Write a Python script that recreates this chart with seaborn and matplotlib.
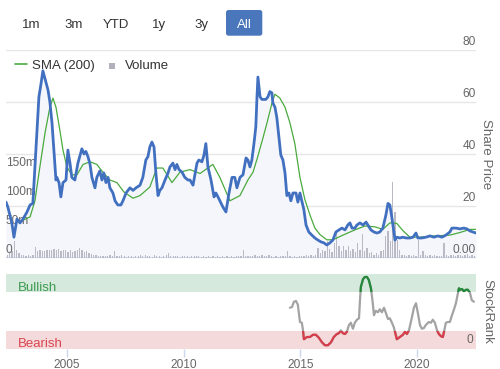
import numpy as np
import pandas as pd
import matplotlib
matplotlib.use('Agg')
import matplotlib.pyplot as plt
import matplotlib.transforms as mtransforms
from matplotlib.patches import FancyBboxPatch, Rectangle
from matplotlib.lines import Line2D
import seaborn as sns

sns.set_style('white')
plt.rcParams['font.family'] = ['Liberation Sans', 'DejaVu Sans']

# ===============================
# DATA
# ===============================
price_year = [
    2002.39, 2002.47, 2002.64, 2002.73, 2002.86, 2002.99,
    2003.12, 2003.29, 2003.42, 2003.54, 2003.63, 2003.72, 2003.80, 2003.89, 2003.97,
    2004.06, 2004.19, 2004.27, 2004.36, 2004.44, 2004.53, 2004.57, 2004.66, 2004.74, 2004.83, 2004.96,
    2005.04, 2005.13, 2005.21, 2005.34, 2005.47, 2005.64, 2005.73, 2005.81, 2005.90, 2005.99,
    2006.07, 2006.20, 2006.28, 2006.41, 2006.50, 2006.58, 2006.67, 2006.76, 2006.84, 2006.97,
    2007.06, 2007.18, 2007.31, 2007.40, 2007.53, 2007.70, 2007.83, 2007.96,
    2008.13, 2008.25, 2008.38, 2008.47, 2008.55, 2008.64, 2008.73, 2008.81, 2008.90, 2008.98,
    2009.07, 2009.20, 2009.33, 2009.41, 2009.54, 2009.63, 2009.71, 2009.80, 2009.93,
    2010.05, 2010.18, 2010.27, 2010.40, 2010.48, 2010.57, 2010.65, 2010.78, 2010.87, 2010.95,
    2011.04, 2011.17, 2011.30, 2011.38, 2011.47, 2011.55, 2011.68, 2011.81, 2011.94,
    2012.07, 2012.19, 2012.28, 2012.41, 2012.54, 2012.67, 2012.75, 2012.84, 2012.92,
    2013.01, 2013.09, 2013.14, 2013.18, 2013.27, 2013.35, 2013.52, 2013.61, 2013.69, 2013.78, 2013.82, 2013.91, 2013.99,
    2014.08, 2014.16, 2014.25, 2014.34, 2014.42, 2014.51, 2014.59, 2014.68, 2014.81, 2014.89, 2014.98,
    2015.06, 2015.15, 2015.24, 2015.36, 2015.49, 2015.62, 2015.75, 2015.88,
    2016.01, 2016.13, 2016.26, 2016.39, 2016.52, 2016.65, 2016.78, 2016.91,
    2017.03, 2017.12, 2017.21, 2017.33, 2017.42, 2017.55, 2017.68, 2017.81, 2017.89,
    2018.02, 2018.15, 2018.28, 2018.40, 2018.53, 2018.66, 2018.75, 2018.83, 2018.92,
    2019.00, 2019.05, 2019.13, 2019.26, 2019.39, 2019.52, 2019.69, 2019.82, 2019.95,
    2020.03, 2020.20, 2020.37, 2020.55, 2020.72, 2020.89,
    2021.06, 2021.23, 2021.40, 2021.49, 2021.66, 2021.83,
    2022.00, 2022.13, 2022.26, 2022.39, 2022.52,
]
price = [
    21.5, 19.6, 13.5, 8.0, 15.0, 13.5,
    15.0, 17.7, 20.4, 21.0, 35.0, 49.0, 62.0, 67.0, 72.0,
    69.0, 64.6, 60.0, 52.0, 41.5, 30.0, 31.0, 29.0, 23.5, 29.0, 30.0,
    41.5, 36.5, 31.0, 30.0, 36.5, 42.0, 40.0, 41.0, 39.0, 36.0,
    31.0, 27.0, 31.0, 33.5, 30.0, 32.7, 29.0, 31.0, 27.0, 25.0,
    22.0, 20.4, 20.4, 22.0, 25.0, 27.0, 26.0, 27.0,
    28.0, 31.0, 37.7, 39.0, 42.7, 44.6, 42.7, 32.7, 24.0, 26.0,
    27.0, 30.0, 32.7, 35.0, 36.5, 34.0, 36.0, 34.0, 33.0,
    31.0, 30.0, 30.0, 28.0, 32.0, 36.5, 37.7, 37.0, 39.6, 44.0,
    35.0, 30.0, 23.5, 25.0, 23.5, 22.0, 19.6, 17.7, 25.0,
    31.0, 31.0, 27.0, 31.0, 32.0, 38.5, 37.7, 35.0, 37.7,
    44.0, 50.5, 62.0, 69.6, 62.0, 61.0, 61.0, 62.0, 64.0, 63.5, 59.6, 58.0, 54.0,
    46.5, 39.6, 37.7, 32.7, 24.0, 25.0, 22.0, 25.0, 25.0, 21.5, 25.0,
    22.0, 18.5, 12.7, 10.0, 8.8, 7.7, 6.9, 6.2,
    5.8, 5.0, 5.8, 6.9, 10.0, 10.8, 11.5, 10.8,
    12.7, 13.5, 11.5, 11.5, 12.7, 13.5, 12.7, 13.8, 12.7,
    10.8, 10.0, 9.6, 10.0, 11.5, 16.5, 21.0, 20.4, 15.4,
    10.0, 6.9, 8.0, 7.7, 8.0, 7.7, 7.7, 8.0, 9.6,
    7.7, 7.7, 8.0, 8.5, 8.0, 8.5,
    8.0, 8.8, 10.0, 11.5, 11.5, 11.2,
    11.5, 11.2, 10.4, 10.0, 9.6,
]

sma_year = [
    2002.99, 2003.42, 2003.63, 2003.84, 2004.06, 2004.27, 2004.40, 2004.53, 2004.70, 2004.83,
    2005.00, 2005.21, 2005.43, 2005.69, 2005.99, 2006.28, 2006.54, 2006.84, 2007.14, 2007.44,
    2007.83, 2008.13, 2008.55, 2008.85, 2009.11, 2009.50, 2009.84, 2010.27, 2010.70, 2011.25,
    2011.55, 2011.98, 2012.41, 2012.75, 2012.97, 2013.14, 2013.39, 2013.57, 2013.78, 2013.91,
    2014.12, 2014.34, 2014.55, 2014.76, 2014.98, 2015.19, 2015.41, 2015.62, 2015.84, 2016.13,
    2016.39, 2016.82, 2017.33, 2017.76, 2018.19, 2018.53, 2018.83, 2019.13, 2019.39, 2019.69,
    2020.12, 2020.76, 2021.40, 2021.83, 2022.26, 2022.52,
]
sma = [
    14.0, 15.8, 22.0, 35.0, 48.0, 58.0, 61.5, 58.0, 49.0, 41.5,
    35.0, 32.0, 32.0, 36.0, 37.0, 36.0, 33.0, 30.0, 29.0, 25.4,
    23.0, 24.0, 27.3, 34.6, 34.6, 29.0, 33.0, 34.0, 32.5, 36.0,
    31.0, 22.0, 24.0, 30.0, 33.0, 38.0, 46.0, 52.0, 59.6, 63.0,
    61.5, 58.0, 52.0, 44.0, 31.0, 22.5, 16.5, 11.5, 9.0, 7.0,
    7.0, 8.8, 10.8, 12.3, 12.0, 11.0, 13.5, 13.3, 10.5, 8.0,
    8.0, 8.5, 8.8, 9.8, 11.0, 11.0,
]

# volume in millions, one bar every 0.1 year starting mid-2002
volume_first_year = 2002.45
volume_m = [
    6, 8, 12, 29, 14, 9,                      # 2002
    5, 5, 4, 5, 4, 6, 19, 12, 13, 12,         # 2003
    12, 14, 13, 14, 15, 13, 15, 12, 14, 13,   # 2004
    11, 13, 10, 12, 14, 17, 13, 11, 12, 9,    # 2005
    7, 6, 5, 4, 4, 3, 4, 3, 5, 4,             # 2006
    12, 4, 3, 5, 3, 2, 4, 3, 2, 3,            # 2007
    3, 6, 4, 5, 3, 4, 2, 5, 3, 4,             # 2008
    2, 3, 5, 9, 4, 3, 4, 3, 2, 4,             # 2009
    3, 4, 2, 3, 4, 3, 4, 2, 3, 2,             # 2010
    3, 2, 3, 2, 3, 2, 4, 2, 3, 2,             # 2011
    3, 2, 3, 4, 3, 14, 4, 3, 4, 3,            # 2012
    5, 4, 3, 6, 4, 3, 5, 3, 2, 3,             # 2013
    2, 3, 4, 3, 12, 3, 2, 3, 2, 3,            # 2014
    3, 4, 5, 4, 5, 4, 6, 17, 8, 14,           # 2015
    12, 29, 15, 10, 26, 43, 20, 12, 21, 14,   # 2016
    20, 12, 16, 10, 26, 14, 41, 12, 17, 8,    # 2017
    10, 6, 8, 5, 12, 14, 38, 46, 30, 131,     # 2018
    80, 31, 14, 6, 5, 4, 6, 4, 5, 3,          # 2019
    31, 6, 12, 5, 4, 6, 4, 5, 3, 4,           # 2020
    4, 26, 5, 4, 6, 5, 4, 6, 5, 4,            # 2021
    5, 7, 4, 6, 4,                            # 2022
]
volume_year = np.round(volume_first_year + 0.1 * np.arange(len(volume_m)), 2)

rank_year = [
    2014.55, 2014.64, 2014.72, 2014.81, 2014.89, 2014.98,
    2015.06, 2015.11, 2015.15, 2015.28, 2015.41, 2015.54, 2015.66, 2015.79, 2015.92,
    2016.05, 2016.18, 2016.31, 2016.43, 2016.56, 2016.65, 2016.73, 2016.82, 2016.91, 2016.99,
    2017.08, 2017.16, 2017.25, 2017.33, 2017.42, 2017.51, 2017.55, 2017.59, 2017.68, 2017.76, 2017.85, 2017.93,
    2018.02, 2018.10, 2018.15, 2018.23, 2018.32, 2018.40, 2018.49, 2018.58, 2018.66, 2018.75, 2018.83, 2018.92,
    2019.00, 2019.05, 2019.13, 2019.26, 2019.39, 2019.48, 2019.56, 2019.65, 2019.78, 2019.86, 2019.95,
    2020.03, 2020.12, 2020.20, 2020.29, 2020.37, 2020.50, 2020.59, 2020.67, 2020.76, 2020.85, 2020.93,
    2021.02, 2021.10, 2021.15, 2021.23, 2021.32, 2021.40, 2021.49, 2021.57, 2021.66, 2021.75, 2021.79, 2021.83, 2021.92,
    2022.00, 2022.09, 2022.17, 2022.26, 2022.34, 2022.43,
]
rank = [
    55, 56, 63, 64, 59, 36,
    35, 25, 13, 16, 16, 19, 19, 15, 9,
    5, 5, 9, 16, 20, 21, 25, 21, 20, 23,
    32, 35, 27, 35, 39, 41, 65, 83, 93, 96, 96, 92,
    81, 61, 45, 51, 49, 53, 49, 55, 48, 40, 41, 35,
    29, 23, 13, 16, 19, 23, 20, 25, 43, 55, 61,
    48, 32, 27, 28, 32, 36, 35, 39, 35, 25, 20,
    17, 16, 23, 35, 36, 36, 45, 52, 61, 75, 81, 79, 80,
    77, 79, 79, 75, 65, 63,
]

price_ticks = [0, 20, 40, 60, 80]
price_labels = ['0.00', '20', '40', '60', '80']
volume_ticks = [0, 50, 100, 150]
volume_labels = ['0', '50m', '100m', '150m']
year_ticks = [2005, 2010, 2015, 2020]
buttons = ['1m', '3m', 'YTD', '1y', '3y', 'All']
bearish_max, bullish_min = 24, 76

# ===============================
# STYLE
# ===============================
BLUE = '#4270c0'
FILL = '#f4f6fb'
GREEN = '#4aaa3e'
VOL = '#b9bac3'
GRID = '#e6e6e6'
AXLINE = '#ccd6eb'
LABEL = '#666666'
TEXT = '#333333'

W, H = 500, 369
x_min, x_max = 2002.39, 2022.52

fig = plt.figure(figsize=(W / 100, H / 100), dpi=100)


def px_rect(x0, y0, x1, y1):
    return [x0 / W, 1 - y1 / H, (x1 - x0) / W, (y1 - y0) / H]


def clean(a):
    for s in a.spines.values():
        s.set_visible(False)
    a.tick_params(left=False, right=False, bottom=False, top=False,
                  labelleft=False, labelright=False, labelbottom=False)
    a.set_xlim(x_min, x_max)
    a.set_xlabel('')
    a.set_ylabel('')


# ===============================
# PRICE PANEL
# ===============================
ax = fig.add_axes(px_rect(6, 50, 476, 258))
axv = ax.twinx()
axp = ax.twinx()

ax.set_ylim(0, 80)
ax.set_yticks(price_ticks)
ax.grid(axis='y', color=GRID, linewidth=1)
ax.set_xticks([])
ax.fill_between(price_year, price, color=FILL, linewidth=0)
ax.axhline(0, color=AXLINE, linewidth=1.2)
clean(ax)

axv.bar(volume_year, volume_m, width=0.055, color=VOL, linewidth=0)
axv.set_ylim(0, 359)
clean(axv)

sns.lineplot(x=sma_year, y=sma, ax=axp, color=GREEN, linewidth=0.9,
             sort=False, estimator=None)
sns.lineplot(x=price_year, y=price, ax=axp, color=BLUE, linewidth=2.0,
             sort=False, estimator=None)
axp.set_ylim(0, 80)
clean(axp)

tr_p = mtransforms.blended_transform_factory(axp.transAxes, axp.transData)
for v, lab in zip(price_ticks, price_labels):
    axp.annotate(lab, xy=(1.0, v), xycoords=tr_p, xytext=(0, 1.5),
                 textcoords='offset points', ha='right', va='bottom',
                 color=LABEL, fontsize=8.6)

tr_v = mtransforms.blended_transform_factory(axv.transAxes, axv.transData)
for v, lab in zip(volume_ticks, volume_labels):
    axv.annotate(lab, xy=(0.0, v), xycoords=tr_v, xytext=(0, 1.5),
                 textcoords='offset points', ha='left', va='bottom',
                 color=LABEL, fontsize=8.6)

fig.text(486 / W, 1 - 154 / H, 'Share Price', rotation=270,
         ha='center', va='center', color=LABEL, fontsize=9.6)

# legend
fig.add_artist(Line2D([15 / W, 27 / W], [1 - 63.5 / H] * 2,
                      color=GREEN, linewidth=1.2))
fig.text(32.5 / W, 1 - 69.3 / H, 'SMA (200)', ha='left', va='baseline',
         color=TEXT, fontsize=9.5)
fig.add_artist(Rectangle((109.3 / W, 1 - 69.3 / H), 6 / W, 6.3 / H,
                         transform=fig.transFigure, color='#b0b1ba',
                         linewidth=0))
fig.text(124.7 / W, 1 - 69.3 / H, 'Volume', ha='left', va='baseline',
         color=TEXT, fontsize=9.5)

# range buttons
btn_x = [31, 73.5, 116, 159, 201, 244]
fig.add_artist(FancyBboxPatch((226 / 100, (H - 35.7) / 100), 0.363, 0.257,
                              boxstyle='round,pad=0,rounding_size=0.025',
                              transform=fig.dpi_scale_trans,
                              facecolor='#4a77bc', edgecolor='none'))
for bx, lab in zip(btn_x, buttons):
    fig.text(bx / W, 1 - 28.3 / H, lab, ha='center', va='baseline',
             color='white' if lab == 'All' else TEXT, fontsize=9.5)

# ===============================
# STOCKRANK PANEL
# ===============================
ax_sr = fig.add_axes(px_rect(6, 274, 476, 349))
ax_sr.set_ylim(0, 100)
bear_band = ax_sr.axhspan(0, bearish_max, color='#f5dadb', linewidth=0, zorder=0)
bull_band = ax_sr.axhspan(bullish_min, 100, color='#d5e9dc', linewidth=0, zorder=0)

sns.lineplot(x=rank_year, y=rank, ax=ax_sr, color='#a3a3a3', linewidth=1.6,
             sort=False, estimator=None)
sns.lineplot(x=rank_year, y=rank, ax=ax_sr, color='#d73c4a', linewidth=1.6,
             sort=False, estimator=None)
ax_sr.lines[-1].set_clip_path(bear_band)
sns.lineplot(x=rank_year, y=rank, ax=ax_sr, color='#23893a', linewidth=1.6,
             sort=False, estimator=None)
ax_sr.lines[-1].set_clip_path(bull_band)

for s in ax_sr.spines.values():
    s.set_visible(False)
ax_sr.set_xlim(x_min, x_max)
ax_sr.set_xlabel('')
ax_sr.set_ylabel('')
ax_sr.set_yticks([])
ax_sr.set_xticks(year_ticks)
ax_sr.set_xticklabels([str(y) for y in year_ticks])
ax_sr.tick_params(axis='x', bottom=True, direction='out', length=5.5,
                  width=1, color=AXLINE, labelcolor=LABEL, labelsize=8.6, pad=2)

ax_sr.text(18 / W, 1 - 290.7 / H, 'Bullish', transform=fig.transFigure,
           ha='left', va='baseline', color='#3d9a50', fontsize=9.5)
ax_sr.text(18 / W, 1 - 347.3 / H, 'Bearish', transform=fig.transFigure,
           ha='left', va='baseline', color='#d9434f', fontsize=9.5)
ax_sr.annotate('0', xy=(1.0, 0), xycoords=ax_sr.transAxes, xytext=(-2, 2.5),
               textcoords='offset points', ha='right', va='bottom',
               color=LABEL, fontsize=8.6)
fig.text(487 / W, 1 - 311 / H, 'StockRank', rotation=270,
         ha='center', va='center', color=LABEL, fontsize=9.6)

fig.savefig('out.png', dpi=100)
print('Saved: out.png')
